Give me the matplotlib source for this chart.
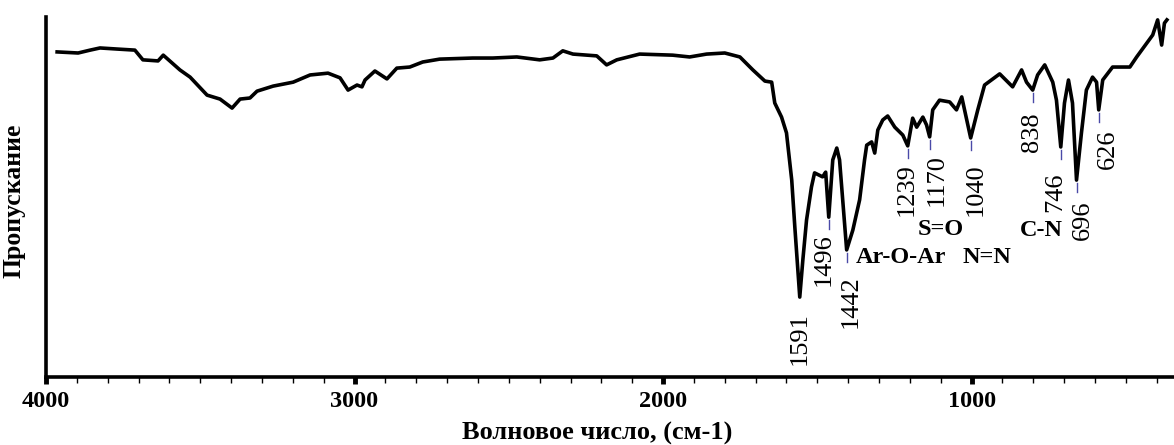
import numpy as np
import matplotlib
matplotlib.use("Agg")
import matplotlib.pyplot as plt
from matplotlib.ticker import MultipleLocator
from matplotlib.transforms import offset_copy

# spectrum: wavenumber (cm-1) and transmittance (%)
wavenumber = [3964, 3896, 3857, 3825, 3770, 3712, 3686, 3637, 3620, 3566, 3533,
              3500, 3478, 3436, 3397, 3371, 3339, 3316, 3264, 3199, 3144, 3086,
              3047, 3021, 2992, 2976, 2966, 2934, 2895, 2863, 2821, 2779, 2724,
              2617, 2552, 2474, 2400, 2357, 2325, 2292, 2215, 2183, 2150, 2076,
              1969, 1914, 1859, 1800, 1751, 1709, 1670, 1648, 1638, 1616, 1600,
              1583, 1573, 1557, 1547, 1535, 1519, 1509, 1483, 1473, 1463, 1450,
              1437, 1428, 1405, 1385, 1363, 1347, 1340, 1324, 1314, 1304, 1288,
              1272, 1249, 1223, 1207, 1191, 1178, 1158, 1146, 1136, 1126, 1104,
              1071, 1049, 1032, 1003, 980, 958, 909, 867, 838, 822, 802, 786,
              763, 737, 725, 711, 699, 686, 673, 660, 644, 628, 608, 595, 588,
              575, 543, 487, 465, 413, 397, 384, 375, 367]
transmittance = [90.3, 90.0, 90.8, 91.4, 91.1, 90.8, 88.1, 87.8, 89.4, 85.3, 83.3,
                 80.3, 78.3, 77.2, 74.7, 77.2, 77.5, 79.4, 80.8, 81.9, 83.9, 84.4,
                 83.1, 79.7, 81.1, 80.6, 82.5, 85.0, 82.8, 85.8, 86.1, 87.5, 88.3,
                 88.6, 88.6, 88.9, 88.1, 88.6, 90.6, 89.7, 89.2, 86.7, 88.1, 89.7,
                 89.4, 88.9, 89.7, 90.0, 88.9, 85.3, 82.2, 81.9, 76.1, 72.2, 67.8,
                 54.7, 41.7, 22.2, 32.5, 43.6, 52.8, 56.7, 55.6, 56.9, 44.4, 60.3,
                 63.6, 60.3, 35.3, 40.8, 49.2, 60.3, 64.4, 65.3, 62.2, 68.6, 71.4,
                 72.5, 69.4, 67.2, 64.2, 71.9, 69.4, 72.2, 70.0, 66.7, 74.2, 76.9,
                 76.4, 74.2, 77.8, 66.4, 74.2, 81.1, 84.2, 80.6, 85.3, 81.9, 79.7, 83.9,
                 86.7, 81.9, 76.9, 63.9, 76.1, 82.5, 76.1, 54.7, 67.8, 79.7, 83.3, 81.9, 74.2,
                 82.5, 86.1, 86.1, 88.9, 95.0, 99.2, 92.2, 98.3, 99.2]

# marked bands: label text and the dip they point at
peak_labels = ["1591", "1496", "1442", "1239", "1170", "1040", "838", "746", "696", "626"]
peak_wn = [1557, 1463, 1405, 1207, 1136, 1003, 802, 711, 660, 588]
# label nudges in pixels (as placed in the original figure)
label_dx = [0, -5, 4, -1, 7, 5, -1, -6, 6, 9]
label_dy = [-15, -16, -25, -17, -17, -25, -22, -26, -20, -20]

group_labels = ["Ar-O-Ar", "S=O", "N=N", "C-N"]
group_wn = [1228, 1099, 950, 775]
group_t = [33.1, 41.1, 33.1, 40.8]

serif = ["Liberation Serif", "DejaVu Serif"]

fig = plt.figure(figsize=(11.74, 4.45), dpi=100)
ax = fig.add_axes([0.0392, 0.1528, 0.9608, 0.809])

ax.plot(wavenumber, transmittance, color="black", lw=2.6, solid_joinstyle="round")

wn_arr = np.array(wavenumber)
t_arr = np.array(transmittance)
for lab, w, dx, dy in zip(peak_labels, peak_wn, label_dx, label_dy):
    t = t_arr[np.argmin(np.abs(wn_arr - w))]
    if lab != "1591":
        ax.plot([w, w], [t - 0.9, t - 3.4], color="#4a4aa8", lw=1.0)
    tr = offset_copy(ax.transData, fig=fig, x=dx, y=dy, units="dots")
    ax.text(w, t, lab, rotation=90, ha="center", va="top",
            fontsize=19, family=serif, transform=tr)

for lab, w, t in zip(group_labels, group_wn, group_t):
    ax.text(w, t, lab, ha="center", va="center", fontsize=17.5,
            fontweight="bold", family=serif)

ax.set_xlim(4000, 344)
ax.set_ylim(0, 100)
ax.spines["top"].set_visible(False)
ax.spines["right"].set_visible(False)
ax.spines["left"].set_linewidth(2.6)
ax.spines["bottom"].set_linewidth(2.6)
ax.set_yticks([])

ax.xaxis.set_major_locator(MultipleLocator(1000))
ax.xaxis.set_minor_locator(MultipleLocator(100))
ax.tick_params(axis="x", which="major", length=5, width=3.5, pad=5)
ax.tick_params(axis="x", which="minor", length=4, width=1.0)
for lbl in ax.get_xticklabels():
    lbl.set_fontsize(17.5)
    lbl.set_fontweight("bold")
    lbl.set_family(serif)

ax.set_xlabel("Волновое число, (см-1)", fontsize=19, fontweight="bold", family=serif)
ax.xaxis.set_label_coords(0.489, -0.125)
ax.set_ylabel("Пропускание", fontsize=18.5, fontweight="bold", family=serif)
ax.yaxis.set_label_coords(-0.018, 0.49)

fig.savefig("out.png", dpi=100)
